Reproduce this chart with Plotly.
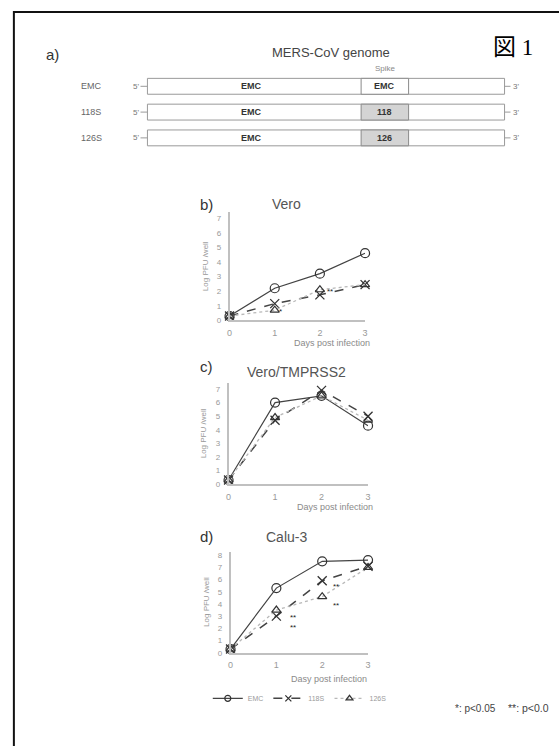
import plotly.graph_objects as go

W, H = 559, 746

# ---------------- data ----------------
days = [0, 1, 2, 3]
series_names = ["EMC", "118S", "126S"]

vero_emc = [0.3, 2.2, 3.2, 4.6]
vero_118s = [0.3, 1.15, 1.75, 2.45]
vero_126s = [0.3, 0.7, 2.1, 2.45]

tmprss2_emc = [0.3, 6.0, 6.5, 4.3]
tmprss2_118s = [0.3, 4.7, 6.9, 5.0]
tmprss2_126s = [0.3, 4.9, 6.5, 4.7]

calu3_emc = [0.3, 5.3, 7.5, 7.6]
calu3_118s = [0.3, 3.0, 5.9, 7.1]
calu3_126s = [0.3, 3.5, 4.6, 7.0]

strains = ["EMC", "118S", "126S"]
backbone_labels = ["EMC", "EMC", "EMC"]
spike_labels = ["EMC", "118", "126"]
spike_swapped = [False, True, True]

# significance marks: (day, value, text, rotation)
sig_vero = [(1.12, 0.62, "*", 0), (2.22, 1.97, "**", 0), (3.1, 3.0, "**", 90)]
sig_calu3 = [(1.36, 2.47, "**<br>**", 0), (2.31, 5.4, "**", 0), (2.31, 3.9, "**", 0)]

FONT = "Liberation Sans, Arial, sans-serif"


def px(x):
    return x / W


def py(y):
    return 1 - y / H


def ann(x, y, text, size, color, family=FONT, xanchor="center", angle=0, xref="paper", yref="paper"):
    if xref == "paper":
        x = px(x)
    if yref == "paper":
        y = py(y)
    return dict(x=x, y=y, xref=xref, yref=yref, text=text, showarrow=False,
                xanchor=xanchor, yanchor="middle", textangle=angle,
                font=dict(size=size, color=color, family=family))


fig = go.Figure()

# ---------------- panel geometry (pixels) ----------------
panels = [
    dict(name="b)", title="Vero", x0=229, x1=366, ytop=213, ybot=322, yr=7.4,
         yticks=list(range(0, 8)), data=(vero_emc, vero_118s, vero_126s),
         xlab="Days post infection", lab_y=205, title_x=287, title_y=205,
         xlab_y=345, xlab_r=373, ytitle_x=205, sig=sig_vero),
    dict(name="c)", title="Vero/TMPRSS2", x0=228, x1=369, ytop=385, ybot=487, yr=7.45,
         yticks=list(range(0, 8)), data=(tmprss2_emc, tmprss2_118s, tmprss2_126s),
         xlab="Days post infection", lab_y=368, title_x=297, title_y=374,
         xlab_y=510, xlab_r=376, ytitle_x=203, sig=[]),
    dict(name="d)", title="Calu-3", x0=230, x1=369, ytop=555, ybot=657, yr=8.3,
         yticks=list(range(0, 9)), data=(calu3_emc, calu3_118s, calu3_126s),
         xlab="Dasy post infection", lab_y=540, title_x=287, title_y=540,
         xlab_y=684, xlab_r=370, ytitle_x=205, sig=sig_calu3),
]

styles = [
    dict(line=dict(color="#444444", width=1.2, dash="solid"),
         marker=dict(symbol="circle-open", size=9, color="#333333", line=dict(width=1.2))),
    dict(line=dict(color="#444444", width=1.5, dash="dash"),
         marker=dict(symbol="x-thin-open", size=9, color="#333333", line=dict(width=1.3))),
    dict(line=dict(color="#b8b8b8", width=1.3, dash="dot"),
         marker=dict(symbol="triangle-up-open", size=8, color="#333333", line=dict(width=1.2))),
]

annotations = []
layout_axes = {}

for i, p in enumerate(panels):
    k = "" if i == 0 else str(i + 1)
    xa, ya = "x" + k, "y" + k
    for j, (vals, st) in enumerate(zip(p["data"], styles)):
        fig.add_trace(go.Scatter(
            x=days, y=vals, mode="lines+markers", name=series_names[j],
            line=st["line"], marker=st["marker"], cliponaxis=False,
            showlegend=False, xaxis=xa, yaxis=ya,
        ))
    layout_axes["xaxis" + k] = dict(
        domain=[px(p["x0"]), px(p["x1"])], range=[0, 3], anchor=ya,
        tickvals=days, ticks="", showgrid=False, zeroline=False,
        showline=True, linecolor="#c0c0c0", linewidth=1.5,
        tickfont=dict(size=9, color="#999999", family=FONT), ticklabelstandoff=3,
    )
    layout_axes["yaxis" + k] = dict(
        domain=[py(p["ybot"]), py(p["ytop"])], range=[0, p["yr"]], anchor=xa,
        tickvals=p["yticks"], ticks="", showgrid=False, zeroline=False,
        showline=True, linecolor="#c0c0c0", linewidth=1.5,
        tickfont=dict(size=8, color="#999999", family=FONT), ticklabelstandoff=5,
    )
    annotations.append(ann(206, p["lab_y"], p["name"], 15, "#333333"))
    annotations.append(ann(p["title_x"], p["title_y"], p["title"], 14, "#555555"))
    annotations.append(ann(p["xlab_r"], p["xlab_y"], p["xlab"], 9, "#8a8a8a", xanchor="right"))
    annotations.append(ann(p["ytitle_x"], (p["ytop"] + p["ybot"]) / 2, "Log PFU /well", 8,
                           "#999999", angle=-90))
    for (sx, sy, st, rot) in p["sig"]:
        a = ann(sx, sy, st, 8, "#222222", angle=rot, xref=xa, yref=ya)
        annotations.append(a)

# legend-only entries (smaller symbols, as in the reference key)
for j, st in enumerate(styles):
    m = dict(st["marker"])
    m["size"] = 6
    fig.add_trace(go.Scatter(x=[None], y=[None], mode="lines+markers", name=series_names[j],
                             line=st["line"], marker=m, showlegend=True,
                             xaxis="x3", yaxis="y3"))

# ---------------- panel a: genome diagram ----------------
shapes = []
shapes.append(dict(type="rect", xref="paper", yref="paper",
                   x0=px(11), x1=px(575), y0=py(765), y1=py(11),
                   line=dict(color="#111111", width=2)))

box_l, box_r = 146, 507
sp_l, sp_r = 362, 410
row_tops = [78, 104, 130]
row_h = 16
for r, (lab, bb, sl, sw) in enumerate(zip(strains, backbone_labels, spike_labels, spike_swapped)):
    t = row_tops[r]
    b = t + row_h
    c = (t + b) / 2
    shapes.append(dict(type="rect", xref="paper", yref="paper",
                       x0=px(box_l), x1=px(box_r), y0=py(b), y1=py(t),
                       line=dict(color="#9a9a9a", width=1), fillcolor="white"))
    shapes.append(dict(type="rect", xref="paper", yref="paper",
                       x0=px(sp_l), x1=px(sp_r), y0=py(b), y1=py(t),
                       line=dict(color="#8a8a8a", width=1),
                       fillcolor="#d4d4d4" if sw else "white"))
    shapes.append(dict(type="line", xref="paper", yref="paper",
                       x0=px(139), x1=px(box_l), y0=py(c), y1=py(c),
                       line=dict(color="#9a9a9a", width=1)))
    shapes.append(dict(type="line", xref="paper", yref="paper",
                       x0=px(box_r), x1=px(513), y0=py(c), y1=py(c),
                       line=dict(color="#9a9a9a", width=1)))
    annotations.append(ann(89, c, lab, 9, "#666666"))
    annotations.append(ann(134, c, "5'", 8, "#777777"))
    annotations.append(ann(519, c, "3'", 8, "#777777"))
    annotations.append(ann(251, c, "<b>" + bb + "</b>", 9, "#333333"))
    annotations.append(ann((sp_l + sp_r) / 2, c, "<b>" + sl + "</b>", 9, "#333333"))

annotations += [
    ann(387, 68, "Spike", 8, "#888888"),
    ann(332, 52, "MERS-CoV genome", 13, "#444444"),
    ann(50, 54, "a)", 15, "#333333"),
    ann(516, 47, "図 1", 23, "#000000", family="Liberation Serif, Noto Sans CJK JP, serif"),
    ann(478, 713, "*: p&lt;0.05", 10, "#444444"),
    ann(508, 713, "**: p&lt;0.0", 10.5, "#444444", xanchor="left"),
]

fig.update_layout(
    width=W, height=H, margin=dict(l=0, r=0, t=0, b=0),
    paper_bgcolor="white", plot_bgcolor="white",
    font=dict(family=FONT),
    showlegend=True,
    legend=dict(orientation="h", x=px(207), y=py(703), xanchor="left", yanchor="middle",
                font=dict(size=7, color="#9a9a9a", family=FONT), itemwidth=30,
                bgcolor="rgba(0,0,0,0)", tracegroupgap=0),
    shapes=shapes, annotations=annotations,
    **layout_axes,
)

fig.write_html("out.html", config={"displayModeBar": False},
               post_script="document.body.style.margin='0';")
